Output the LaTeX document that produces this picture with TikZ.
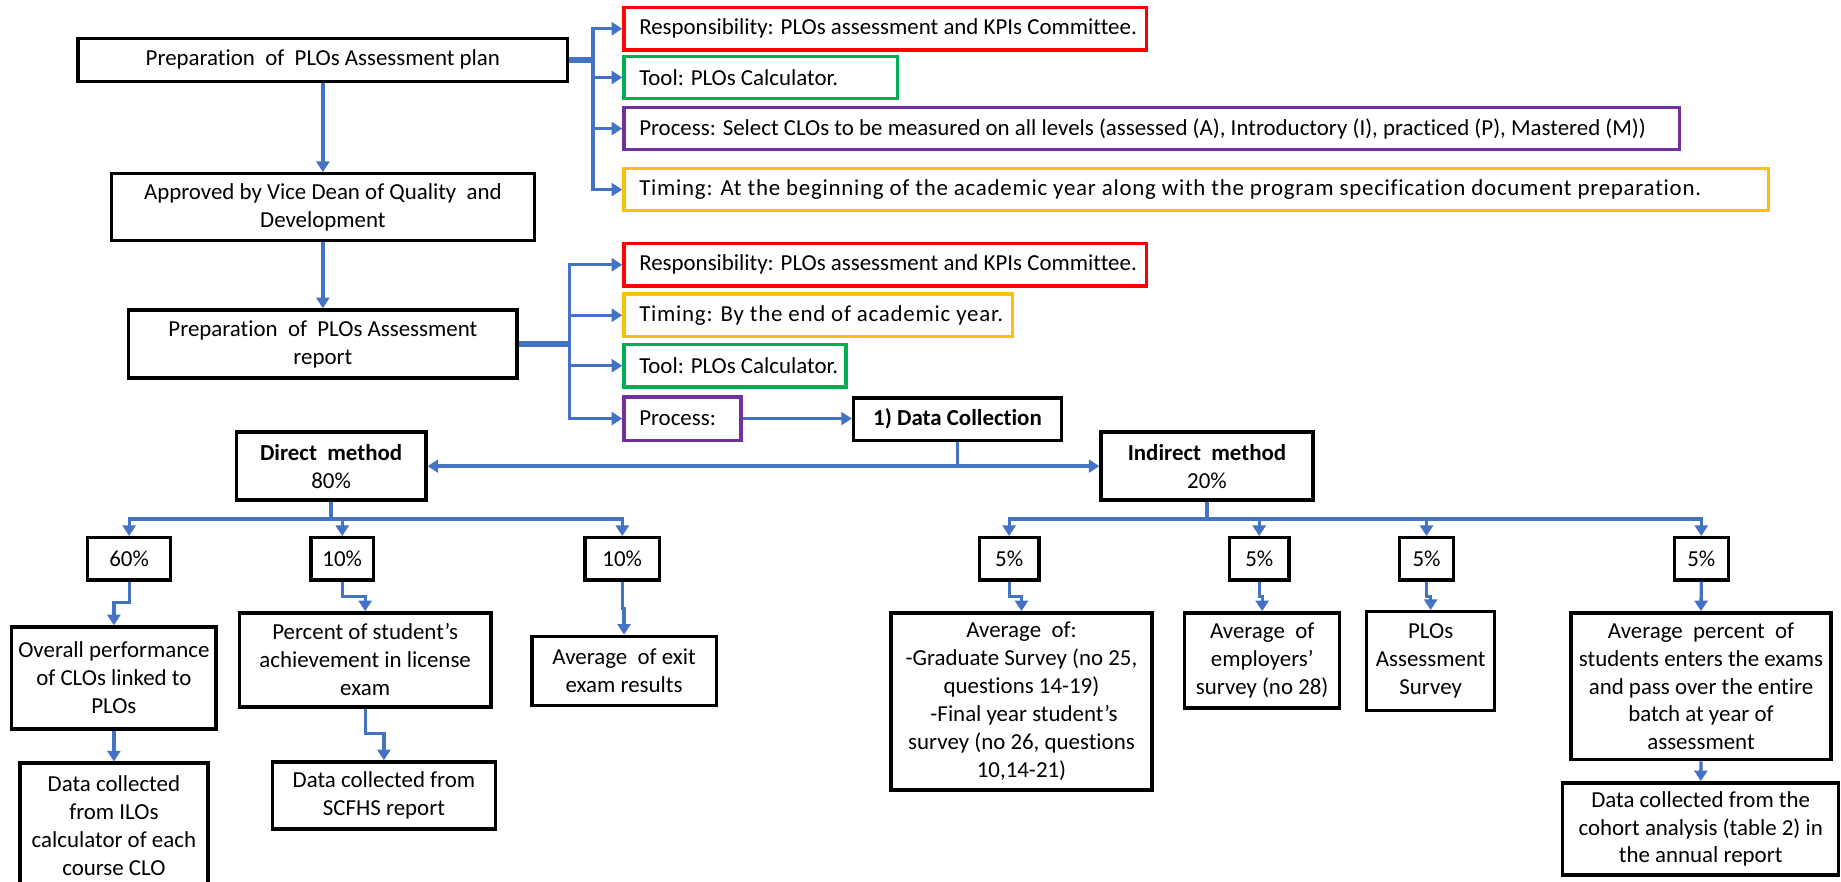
\documentclass[tikz,border=0pt]{standalone}
\usepackage{fontspec}
\setmainfont{Carlito}[Ligatures=NoCommon]
\usetikzlibrary{arrows.meta}
\definecolor{lnblue}{HTML}{4472C4}
\definecolor{bred}{HTML}{FF0000}
\definecolor{bgreen}{HTML}{00B050}
\definecolor{bpurple}{HTML}{7030A0}
\definecolor{bgold}{HTML}{FFC000}
\newcommand\cbt[2]{\hspace*{13pt}\makebox[\dimexpr#1pt-13pt\relax][l]{#2}}
\begin{document}
\begin{tikzpicture}[x=1pt,y=-1pt,
  every node/.style={font=\fontsize{19.5}{23.8}\selectfont},
  bbox/.style={draw=black, line width=2.9pt, inner sep=0pt, align=center},
  cbox/.style={draw=#1, line width=2.9pt, inner xsep=0pt, inner ysep=0pt, minimum height=36pt, anchor=west},
  conn/.style={draw=lnblue, line width=2.8pt},
  arr/.style={conn, -{Triangle[length=9pt,width=11pt]}},
  fatconn/.style={draw=lnblue, line width=4.5pt},
]
\useasboundingbox (0,0) rectangle (1568,751);

% top chain
\node[bbox, minimum width=417pt, minimum height=36.5pt] (plan) at (275,51) {Preparation~ of~ PLOs Assessment plan};
\node[bbox, minimum width=360pt, minimum height=57pt] (appr) at (275,176.5) {Approved by Vice Dean of Quality~ and\\Development};
\node[bbox, minimum width=331pt, minimum height=58pt] (rep) at (275,293) {Preparation~ of~ PLOs Assessment\\report};

% plan details
\node[cbox=bred] (r1) at (530,24.5) {\cbt{445}{Responsibility: PLOs assessment and KPIs Committee.}};
\node[cbox=bgreen] (g1) at (530,66) {\cbt{233}{Tool: PLOs Calculator.}};
\node[cbox=bpurple] (p1) at (530,109.5) {\cbt{899}{Process: Select CLOs to be measured on all levels (assessed (A), Introductory (I), practiced (P), Mastered (M))}};
\node[cbox=bgold] (y1) at (530,161.5) {\cbt{975}{\addfontfeature{LetterSpace=3.3}Timing: At the beginning of the academic year along with the program specification document preparation.}};

% report details
\node[cbox=bred] (r2) at (530,225.5) {\cbt{445}{Responsibility: PLOs assessment and KPIs Committee.}};
\node[cbox=bgold] (y2) at (530,268.5) {\cbt{331}{\addfontfeature{LetterSpace=3.3}Timing: By the end of academic year.}};
\node[cbox=bgreen] (g2) at (530,311.5) {\cbt{189}{Tool: PLOs Calculator.}};
\node[cbox=bpurple, minimum height=37pt] (p2) at (530,356.5) {\cbt{99.5}{Process:}};

\node[bbox, minimum width=177pt, minimum height=36pt, font=\fontsize{19.5}{23.8}\selectfont\bfseries] (dc) at (815.5,357) {1) Data Collection};

% methods
\node[bbox, minimum width=161.5pt, minimum height=58pt] (dir) at (282,397) {\textbf{Direct~ method}\\80\%};
\node[bbox, minimum width=180.5pt, minimum height=58pt] (ind) at (1028,397) {\textbf{Indirect~ method}\\20\%};

% percentages
\node[bbox, minimum width=70.5pt, minimum height=36pt] (p60) at (110,476) {60\%};
\node[bbox, minimum width=53pt, minimum height=36pt] (p10a) at (291.5,476) {10\%};
\node[bbox, minimum width=63.5pt, minimum height=36pt] (p10b) at (530,476) {10\%};
\node[bbox, minimum width=51pt, minimum height=36pt] (p5a) at (859.5,476) {5\%};
\node[bbox, minimum width=51pt, minimum height=36pt] (p5b) at (1072.5,476) {5\%};
\node[bbox, minimum width=46pt, minimum height=36pt] (p5c) at (1215,476) {5\%};
\node[bbox, minimum width=46pt, minimum height=36pt] (p5d) at (1449,476) {5\%};

% lower boxes
\node[bbox, minimum width=174pt, minimum height=87pt] (overall) at (97,577.5) {Overall performance\\of CLOs linked to\\PLOs};
\node[bbox, minimum width=160pt, minimum height=106pt] (ilos) at (97,703) {Data collected\\from ILOs\\calculator of each\\course CLO};
\node[bbox, minimum width=214.5pt, minimum height=80pt] (percent) at (311,562) {Percent of student’s\\achievement in license\\exam};
\node[bbox, minimum width=190pt, minimum height=57pt] (scfhs) at (327,677.5) {Data collected from\\SCFHS report};
\node[bbox, minimum width=157pt, minimum height=59pt] (exit) at (531.5,571.5) {Average~ of exit\\exam results};
\node[bbox, minimum width=222pt, minimum height=151pt] (grad) at (870,597.5) {Average~ of:\\-Graduate Survey (no 25,\\questions 14-19)\\\ -Final year student’s\\survey (no 26, questions\\10,14-21)};
\node[bbox, minimum width=132pt, minimum height=81pt] (emp) at (1075,562.5) {Average~ of\\employers’\\survey (no 28)};
\node[bbox, minimum width=109pt, minimum height=84pt] (plos) at (1218.5,563) {PLOs\\Assessment\\Survey};
\node[bbox, minimum width=221.5pt, minimum height=125pt] (avgp) at (1448.75,584.5) {Average~ percent~ of\\students enters the exams\\and pass over the entire\\batch at year of\\assessment};
\node[bbox, minimum width=235pt, minimum height=78.5pt] (coh) at (1448.5,706) {Data collected from the\\cohort analysis (table 2) in\\the annual report};

% junction coordinates
\coordinate (tA) at (505,51);
\coordinate (tB) at (485,293);
\coordinate (jDC) at (815.5,397);
\coordinate (jD) at (282,442);
\coordinate (jI) at (1028,442);
\coordinate (e60) at (0,513);
\coordinate (e10a) at (0,508);
\coordinate (ePS) at (0,625);
\coordinate (e10b) at (0,518);
\coordinate (e5) at (0,508);

% connectors: plan
\draw[arr] (plan.south) -- (appr.north);
\draw[arr] (appr.south) -- (rep.north);
\draw[fatconn] (plan.east) -- (tA);
\draw[arr] (tA) |- (r1.west);
\draw[arr] (tA) |- (g1.west);
\draw[arr] (tA) |- (p1.west);
\draw[arr] (tA) |- (y1.west);
% connectors: report
\draw[fatconn] (rep.east) -- (tB);
\draw[arr] (tB) |- (r2.west);
\draw[arr] (tB) |- (y2.west);
\draw[arr] (tB) |- (g2.west);
\draw[arr] (tB) |- (p2.west);
\draw[arr] (p2.east) -- (p2.east -| dc.west);
% data collection
\draw[conn] (dc.south) -- (jDC);
\draw[arr] (jDC) -- (dir.east);
\draw[arr] (jDC) -- (ind.west);
% direct
\draw[conn] (dir.south) -- (jD);
\draw[arr] (jD) -| (p60.north);
\draw[arr] (jD) -| (p10a.north);
\draw[arr] (jD) -| (p10b.north);
% indirect
\draw[conn] (ind.south) -- (jI);
\draw[arr] (jI) -| (p5a.north);
\draw[arr] (jI) -| (p5b.north);
\draw[arr] (jI) -| (p5c.north);
\draw[arr] (jI) -| (p5d.north);
% lower
\draw[arr] (p60.south) -- (p60.south |- e60) -| (overall.north);
\draw[arr] (overall.south) -- (ilos.north);
\draw[arr] (p10a.south) -- (p10a.south |- e10a) -| (percent.north);
\draw[arr] (percent.south) -- (percent.south |- ePS) -| (scfhs.north);
\draw[arr] (p10b.south) -- (p10b.south |- e10b) -| (exit.north);
\draw[arr] (p5a.south) -- (p5a.south |- e5) -| (grad.north);
\draw[arr] (p5b.south) -- (p5b.south |- e5) -| (emp.north);
\draw[arr] (p5c.south) -- (p5c.south |- e5) -| (plos.north);
\draw[arr] (p5d.south) -- (avgp.north);
\draw[arr] (avgp.south) -- (coh.north);
\end{tikzpicture}
\end{document}
